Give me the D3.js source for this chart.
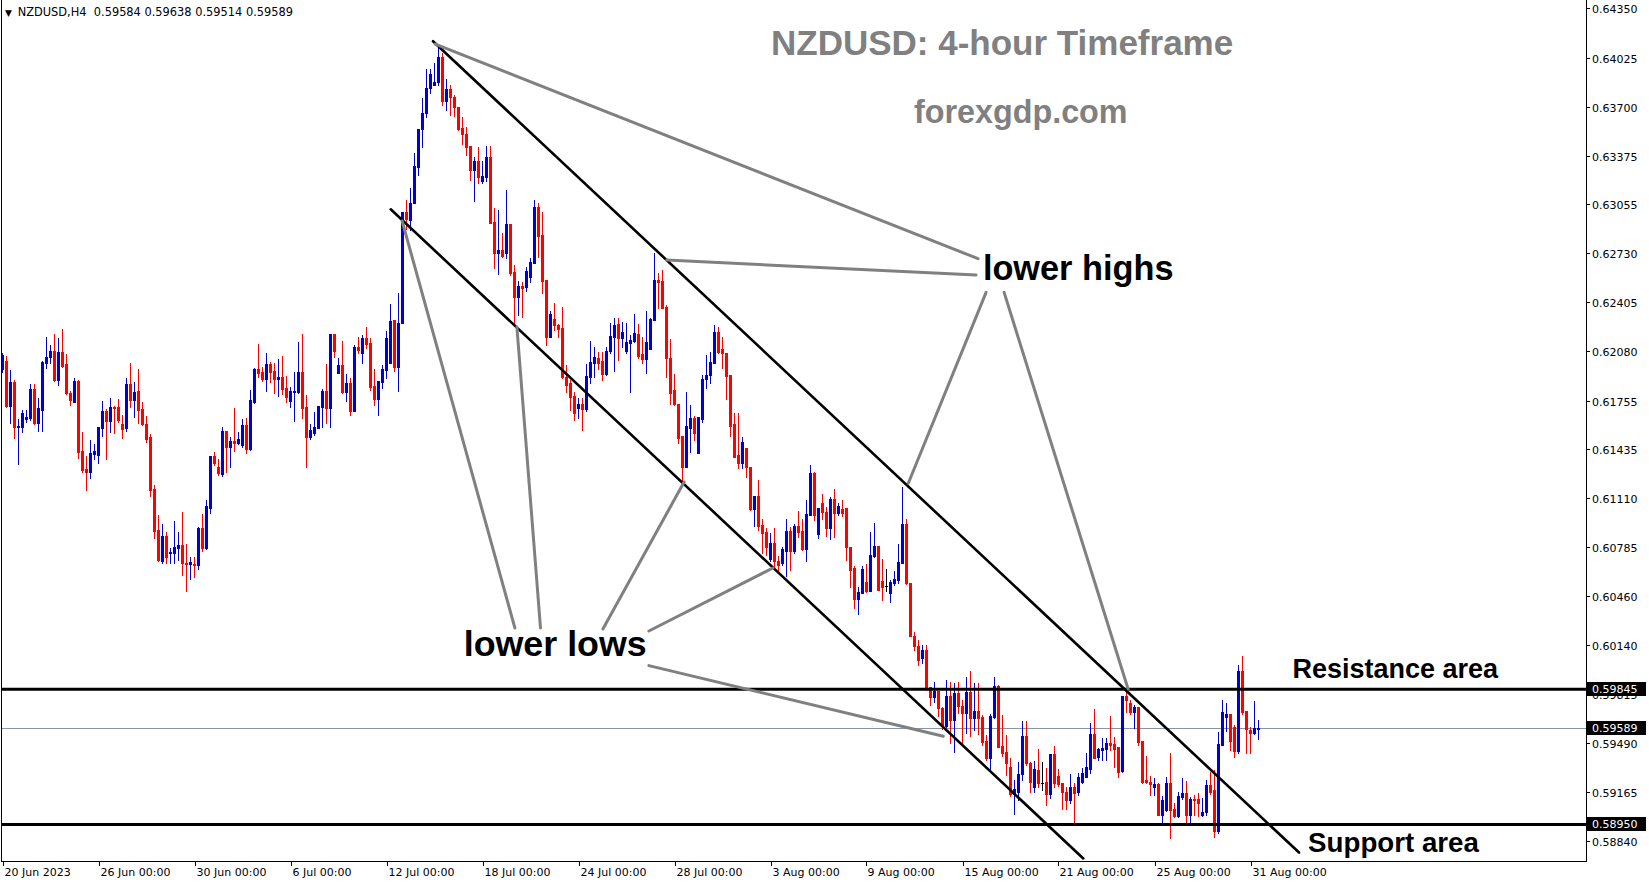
<!DOCTYPE html>
<html><head><meta charset="utf-8">
<script src="https://cdn.jsdelivr.net/npm/d3@7"></script>
<style>body{margin:0;background:#fff}svg{display:block}</style>
</head><body>
<script>
// ---------- DATA (NZDUSD H4, 20 Jun 2023 - 31 Aug 2023) ----------
const opens = [0.61964,0.62017,0.61719,0.61878,0.61581,0.61581,0.61633,0.61640,0.61831,0.61607,0.61693,0.62004,0.62044,0.62083,0.61891,0.62077,0.61998,0.61805,0.61746,0.61884,0.61421,0.61302,0.61283,0.61402,0.61395,0.61574,0.61686,0.61620,0.61713,0.61713,0.61601,0.61574,0.61865,0.61759,0.61818,0.61699,0.61601,0.61514,0.61169,0.60899,0.60693,0.60859,0.60746,0.60746,0.60779,0.60799,0.60680,0.60674,0.60674,0.60667,0.60912,0.60779,0.61044,0.61388,0.61316,0.61270,0.61553,0.61448,0.61487,0.61474,0.61461,0.61594,0.61434,0.61746,0.61964,0.61944,0.61897,0.61998,0.61950,0.61897,0.61911,0.61838,0.61752,0.61812,0.61812,0.61944,0.61713,0.61514,0.61540,0.61574,0.61713,0.61818,0.61706,0.62196,0.61937,0.61991,0.61812,0.61871,0.61686,0.62110,0.62070,0.62169,0.62136,0.61851,0.61765,0.61878,0.61957,0.62004,0.62288,0.61978,0.62268,0.63003,0.62950,0.63062,0.63301,0.63552,0.63658,0.63824,0.63844,0.63864,0.64029,0.63737,0.63817,0.63764,0.63698,0.63559,0.63520,0.63440,0.63281,0.63340,0.63208,0.63235,0.63367,0.62937,0.62732,0.62752,0.62732,0.62924,0.62606,0.62441,0.62513,0.62507,0.62573,0.62665,0.63036,0.62851,0.62553,0.62176,0.62294,0.62255,0.62235,0.61911,0.61871,0.61785,0.61706,0.61733,0.61699,0.61911,0.62004,0.62037,0.62017,0.61931,0.62083,0.62176,0.62262,0.62169,0.62083,0.62136,0.62149,0.62196,0.62064,0.62030,0.62097,0.62288,0.62553,0.62546,0.62375,0.62037,0.61825,0.61733,0.61520,0.61316,0.61574,0.61640,0.61408,0.61633,0.61897,0.61924,0.62004,0.62209,0.62097,0.62070,0.61924,0.61601,0.61395,0.61342,0.61441,0.61316,0.61037,0.61123,0.60932,0.60886,0.60706,0.60812,0.60693,0.60680,0.60759,0.60892,0.60759,0.60925,0.60892,0.60772,0.60998,0.61276,0.60873,0.61077,0.61018,0.60912,0.61103,0.61011,0.61037,0.61044,0.60786,0.60647,0.60442,0.60482,0.60555,0.60495,0.60726,0.60792,0.60561,0.60528,0.60482,0.60548,0.60568,0.60680,0.60939,0.60548,0.60197,0.60131,0.60051,0.60104,0.59860,0.59794,0.59833,0.59721,0.59601,0.59800,0.59641,0.59820,0.59734,0.59687,0.59827,0.59654,0.59700,0.59661,0.59502,0.59390,0.59661,0.59866,0.59469,0.59430,0.59330,0.59151,0.59165,0.59284,0.59535,0.59356,0.59198,0.59310,0.59224,0.59231,0.59151,0.59416,0.59270,0.59224,0.59165,0.59112,0.59198,0.59165,0.59231,0.59264,0.59317,0.59548,0.59396,0.59443,0.59449,0.59489,0.59482,0.59463,0.59304,0.59800,0.59754,0.59694,0.59727,0.59502,0.59244,0.59231,0.59198,0.59218,0.59013,0.59046,0.59224,0.59052,0.59006,0.59132,0.59158,0.59013,0.59118,0.59118,0.59013,0.59033,0.59211,0.59178,0.58907,0.59476,0.59661,0.59681,0.59595,0.59436,0.59965,0.59700,0.59575,0.59555,0.59584];
const highs = [0.62070,0.62050,0.61957,0.61891,0.61633,0.61693,0.61693,0.61865,0.61865,0.61772,0.62017,0.62176,0.62123,0.62196,0.62169,0.62228,0.62064,0.61818,0.61904,0.61891,0.61547,0.61388,0.61494,0.61468,0.61581,0.61752,0.61699,0.61772,0.61719,0.61765,0.61660,0.61904,0.62004,0.61878,0.61964,0.61746,0.61653,0.61534,0.61196,0.60998,0.60939,0.60886,0.60779,0.60958,0.60886,0.61018,0.60806,0.60720,0.60720,0.60919,0.61005,0.61097,0.61388,0.61415,0.61368,0.61581,0.61553,0.61514,0.61706,0.61547,0.61633,0.61640,0.61825,0.61971,0.62130,0.61978,0.62070,0.62011,0.62004,0.62030,0.62050,0.61917,0.61845,0.61944,0.62143,0.62196,0.61792,0.61601,0.61680,0.61719,0.61831,0.61998,0.62196,0.62196,0.62037,0.62149,0.61931,0.61904,0.62123,0.62176,0.62189,0.62242,0.62169,0.61964,0.61884,0.61991,0.62215,0.62395,0.62288,0.62467,0.63003,0.63082,0.63162,0.63393,0.63552,0.63757,0.63950,0.63950,0.63989,0.64095,0.64055,0.63884,0.63844,0.63777,0.63698,0.63632,0.63566,0.63440,0.63367,0.63434,0.63340,0.63440,0.63440,0.63029,0.63016,0.62864,0.63149,0.62924,0.62652,0.62546,0.62540,0.62639,0.62699,0.63082,0.63062,0.63003,0.62553,0.62347,0.62401,0.62262,0.62375,0.61991,0.61891,0.61812,0.61772,0.61772,0.61998,0.62149,0.62110,0.62077,0.62077,0.62110,0.62268,0.62301,0.62301,0.62275,0.62268,0.62189,0.62328,0.62262,0.62176,0.62347,0.62301,0.62732,0.62599,0.62619,0.62388,0.62163,0.61931,0.61733,0.61520,0.61812,0.61726,0.61653,0.61647,0.61924,0.62057,0.62077,0.62255,0.62242,0.62176,0.62070,0.61924,0.61673,0.61673,0.61514,0.61441,0.61316,0.61123,0.61229,0.60971,0.60912,0.60879,0.60912,0.60726,0.60786,0.60971,0.60919,0.60939,0.61024,0.60971,0.61097,0.61329,0.61283,0.61044,0.61137,0.61051,0.61117,0.61169,0.61077,0.61097,0.61044,0.60786,0.60660,0.60522,0.60660,0.60674,0.60886,0.60945,0.60792,0.60706,0.60641,0.60568,0.60627,0.60806,0.61183,0.60971,0.60548,0.60224,0.60171,0.60138,0.60138,0.59860,0.59893,0.59833,0.59727,0.59906,0.59893,0.59886,0.59893,0.59774,0.59926,0.59965,0.59886,0.59886,0.59674,0.59542,0.59681,0.59926,0.59873,0.59674,0.59542,0.59390,0.59244,0.59363,0.59634,0.59634,0.59363,0.59369,0.59449,0.59363,0.59323,0.59416,0.59469,0.59317,0.59224,0.59198,0.59284,0.59224,0.59290,0.59323,0.59423,0.59621,0.59714,0.59456,0.59522,0.59522,0.59667,0.59529,0.59463,0.59800,0.59827,0.59774,0.59741,0.59727,0.59502,0.59403,0.59270,0.59257,0.59224,0.59138,0.59264,0.59423,0.59092,0.59165,0.59257,0.59237,0.59132,0.59145,0.59158,0.59125,0.59244,0.59297,0.59310,0.59562,0.59774,0.59754,0.59681,0.59608,0.60005,0.60064,0.59700,0.59595,0.59767,0.59638];
const lows = [0.61944,0.61713,0.61607,0.61507,0.61336,0.61547,0.61614,0.61627,0.61601,0.61553,0.61553,0.61971,0.62004,0.61884,0.61858,0.61978,0.61799,0.61726,0.61746,0.61375,0.61283,0.61163,0.61243,0.61368,0.61342,0.61520,0.61368,0.61547,0.61540,0.61614,0.61507,0.61553,0.61713,0.61647,0.61607,0.61594,0.61481,0.61123,0.60846,0.60693,0.60680,0.60680,0.60680,0.60680,0.60700,0.60601,0.60495,0.60575,0.60588,0.60641,0.60759,0.60772,0.61011,0.61329,0.61263,0.61256,0.61283,0.61316,0.61421,0.61468,0.61448,0.61408,0.61428,0.61739,0.61911,0.61884,0.61818,0.61878,0.61805,0.61785,0.61799,0.61746,0.61713,0.61620,0.61805,0.61640,0.61316,0.61500,0.61527,0.61574,0.61581,0.61607,0.61581,0.62044,0.61937,0.61805,0.61752,0.61660,0.61686,0.62070,0.62004,0.62103,0.61825,0.61726,0.61660,0.61838,0.61904,0.62004,0.61950,0.61818,0.62268,0.62890,0.62884,0.63062,0.63248,0.63434,0.63632,0.63790,0.63844,0.63844,0.63711,0.63678,0.63645,0.63638,0.63546,0.63454,0.63380,0.63215,0.63075,0.63195,0.63195,0.63208,0.62930,0.62632,0.62593,0.62706,0.62699,0.62586,0.62255,0.62321,0.62308,0.62480,0.62540,0.62665,0.62706,0.62467,0.62123,0.62176,0.62222,0.62176,0.61904,0.61812,0.61693,0.61627,0.61640,0.61560,0.61686,0.61871,0.61911,0.61964,0.61891,0.61924,0.62070,0.61950,0.62024,0.62110,0.62070,0.61812,0.62143,0.62037,0.62004,0.61937,0.62097,0.62288,0.62368,0.62368,0.61911,0.61733,0.61726,0.61474,0.61209,0.61316,0.61415,0.61494,0.61408,0.61614,0.61838,0.61871,0.62004,0.62070,0.61971,0.61765,0.61520,0.61382,0.61309,0.61309,0.61250,0.61031,0.60925,0.60899,0.60746,0.60733,0.60693,0.60660,0.60627,0.60667,0.60594,0.60634,0.60746,0.60853,0.60766,0.60693,0.60998,0.60965,0.60846,0.60971,0.60859,0.60839,0.60853,0.60998,0.60991,0.60700,0.60522,0.60382,0.60343,0.60482,0.60489,0.60495,0.60720,0.60502,0.60435,0.60495,0.60422,0.60535,0.60548,0.60680,0.60541,0.60197,0.60104,0.60005,0.60018,0.59840,0.59741,0.59761,0.59667,0.59581,0.59595,0.59489,0.59430,0.59687,0.59476,0.59555,0.59535,0.59575,0.59548,0.59476,0.59376,0.59310,0.59654,0.59463,0.59403,0.59277,0.59138,0.59020,0.59112,0.59244,0.59343,0.59165,0.59165,0.59198,0.59178,0.59079,0.59125,0.59198,0.59204,0.59052,0.59052,0.59092,0.58954,0.59145,0.59224,0.59264,0.59290,0.59390,0.59376,0.59376,0.59376,0.59443,0.59330,0.59264,0.59297,0.59694,0.59681,0.59588,0.59476,0.59224,0.59224,0.59145,0.59145,0.59013,0.58954,0.59039,0.58860,0.58999,0.58999,0.59118,0.58954,0.58960,0.59013,0.59006,0.59006,0.59013,0.59151,0.58867,0.58893,0.59476,0.59568,0.59443,0.59396,0.59423,0.59681,0.59423,0.59423,0.59548,0.59514];
const closes = [0.62057,0.61719,0.61878,0.61581,0.61587,0.61673,0.61647,0.61831,0.61607,0.61706,0.62011,0.62044,0.62083,0.61891,0.62077,0.61984,0.61805,0.61759,0.61884,0.61415,0.61296,0.61283,0.61408,0.61421,0.61581,0.61686,0.61620,0.61713,0.61706,0.61627,0.61567,0.61865,0.61759,0.61812,0.61693,0.61601,0.61500,0.61163,0.60892,0.60700,0.60859,0.60720,0.60753,0.60786,0.60799,0.60680,0.60674,0.60687,0.60667,0.60912,0.60779,0.61057,0.61388,0.61342,0.61276,0.61553,0.61448,0.61487,0.61474,0.61500,0.61594,0.61434,0.61759,0.61964,0.61937,0.61897,0.61998,0.61944,0.61897,0.61911,0.61831,0.61779,0.61818,0.61818,0.61944,0.61706,0.61514,0.61560,0.61581,0.61719,0.61818,0.61706,0.62196,0.62083,0.61991,0.61812,0.61871,0.61686,0.62110,0.62090,0.62169,0.62130,0.61845,0.61765,0.61884,0.61964,0.62169,0.62281,0.61978,0.62268,0.63003,0.62956,0.63062,0.63307,0.63552,0.63658,0.63824,0.63917,0.63864,0.64029,0.63737,0.63817,0.63764,0.63698,0.63552,0.63520,0.63434,0.63281,0.63340,0.63235,0.63241,0.63367,0.62930,0.62732,0.62752,0.62712,0.62924,0.62599,0.62441,0.62513,0.62500,0.62612,0.62672,0.63036,0.62844,0.62546,0.62176,0.62328,0.62255,0.62228,0.61911,0.61858,0.61779,0.61673,0.61733,0.61699,0.61917,0.62011,0.62044,0.62004,0.61931,0.62083,0.62182,0.62255,0.62169,0.62209,0.62143,0.62156,0.62202,0.62050,0.62030,0.62143,0.62294,0.62553,0.62540,0.62368,0.62037,0.61805,0.61733,0.61507,0.61316,0.61587,0.61640,0.61540,0.61647,0.61897,0.61924,0.62011,0.62209,0.62077,0.62070,0.61917,0.61587,0.61382,0.61342,0.61481,0.61316,0.61037,0.61123,0.60925,0.60879,0.60786,0.60812,0.60693,0.60667,0.60772,0.60892,0.60759,0.60925,0.60886,0.60772,0.61005,0.61276,0.60998,0.61044,0.61018,0.60912,0.61103,0.61011,0.61057,0.61011,0.60786,0.60634,0.60442,0.60489,0.60641,0.60495,0.60733,0.60792,0.60502,0.60522,0.60528,0.60555,0.60575,0.60687,0.60939,0.60548,0.60197,0.60131,0.60038,0.60104,0.59853,0.59794,0.59833,0.59721,0.59601,0.59800,0.59641,0.59820,0.59734,0.59687,0.59827,0.59654,0.59700,0.59654,0.59496,0.59390,0.59667,0.59866,0.59463,0.59423,0.59356,0.59151,0.59184,0.59284,0.59535,0.59356,0.59231,0.59317,0.59224,0.59224,0.59151,0.59416,0.59224,0.59218,0.59165,0.59112,0.59198,0.59158,0.59264,0.59290,0.59330,0.59548,0.59390,0.59449,0.59456,0.59489,0.59476,0.59449,0.59297,0.59800,0.59774,0.59694,0.59727,0.59496,0.59231,0.59231,0.59218,0.59218,0.59013,0.59112,0.59224,0.59046,0.59006,0.59138,0.59158,0.59013,0.59118,0.59112,0.59092,0.59033,0.59211,0.59165,0.58907,0.59482,0.59694,0.59681,0.59502,0.59436,0.59965,0.59694,0.59581,0.59555,0.59588,0.59589];

const priceTickLabels = ["0.64350","0.64025","0.63700","0.63375","0.63055","0.62730","0.62405","0.62080","0.61755","0.61435","0.61110","0.60785","0.60460","0.60140","0.59815","0.59490","0.59165","0.58840"];
const dateLabels = ["20 Jun 2023","26 Jun 00:00","30 Jun 00:00","6 Jul 00:00","12 Jul 00:00","18 Jul 00:00","24 Jul 00:00","28 Jul 00:00","3 Aug 00:00","9 Aug 00:00","15 Aug 00:00","21 Aug 00:00","25 Aug 00:00","31 Aug 00:00"];
const dateLabelBars = [0,24,48,72,96,120,144,168,192,216,240,264,288,312];

const resistancePrice = 0.59845;
const supportPrice = 0.58950;
const lastPrice = 0.59589;

// trend lines: [barIndex, price]
const channelUpper = [[107.63,0.64133],[324.13,0.58764]];
const channelLower = [[97.05,0.63021],[270.2,0.58725]];
const lowerHighPointers = [
  [[108.2,0.64114],[243.9,0.62694]],
  [[166.05,0.62685],[243.4,0.62586]],
  [[226.45,0.61208],[245.9,0.62471]],
  [[250.4,0.62471],[281.4,0.59846]]
];
const lowerLowPointers = [
  [[99.9,0.62944],[128.1,0.60250]],
  [[128.6,0.62242],[134.5,0.60250]],
  [[170.4,0.61216],[150.1,0.60244]],
  [[192.6,0.60647],[161.6,0.60230]],
  [[161.6,0.60001],[235.2,0.59534]]
];
const labelTexts = [
  {text:"lower highs", bar:245.1, price:0.62553, size:34.3},
  {text:"lower lows", bar:115.3, price:0.60065, size:35.8},
  {text:"Resistance area", bar:322.5, price:0.59919, size:27},
  {text:"Support area", bar:326.4, price:0.58768, size:27.7}
];

// ---------- DRAW ----------
const W = 1649, H = 884;
const plotL = 2, plotR = 1586, plotB = 861;
const svg = d3.select("body").append("svg").attr("width", W).attr("height", H)
  .style("font-family","'DejaVu Sans', Tahoma, sans-serif");
svg.append("rect").attr("width",W).attr("height",H).attr("fill","#fff");

const x = d3.scaleLinear().domain([0, 396]).range([2.5, 1586.5]);
const y = d3.scaleLinear().domain([0.58708, 0.64406]).range([plotB, 0]);

svg.append("defs").append("clipPath").attr("id","plotclip")
  .append("rect").attr("x",plotL).attr("y",0).attr("width",plotR-plotL).attr("height",plotB);

const plot = svg.append("g").attr("clip-path","url(#plotclip)");

// last price line
plot.append("line").attr("x1",plotL).attr("x2",plotR)
  .attr("y1",Math.round(y(lastPrice))+0.5).attr("y2",Math.round(y(lastPrice))+0.5)
  .attr("stroke","#8595a6").attr("stroke-width",1);

// candles
const bars = d3.range(closes.length).map(i => ({i, o:opens[i], h:highs[i], l:lows[i], c:closes[i]}));
const col = d => d.c > d.o ? "#0000d2" : (d.c < d.o ? "#ff0000" : "#000000");
const cg = plot.append("g").attr("shape-rendering","crispEdges");
cg.selectAll("rect.wick").data(bars).join("rect").attr("class","wick")
  .attr("x", d => x(d.i) - 0.5).attr("width", 1)
  .attr("y", d => Math.round(y(d.h)))
  .attr("height", d => Math.max(1, Math.round(y(d.l)) - Math.round(y(d.h)) + 1))
  .attr("fill", col);
cg.selectAll("rect.body").data(bars).join("rect").attr("class","body")
  .attr("x", d => x(d.i) - 1.5).attr("width", 3)
  .attr("y", d => Math.round(y(Math.max(d.o,d.c))))
  .attr("height", d => Math.max(1, Math.round(y(Math.min(d.o,d.c))) - Math.round(y(Math.max(d.o,d.c))) + 1))
  .attr("fill", col);

// level lines
[resistancePrice, supportPrice].forEach(p => {
  plot.append("line").attr("x1",plotL).attr("x2",plotR)
    .attr("y1",y(p)).attr("y2",y(p)).attr("stroke","#000").attr("stroke-width",3);
});

// channel
const seg = (g, pts, color, w) => g.append("line")
  .attr("x1",x(pts[0][0])).attr("y1",y(pts[0][1]))
  .attr("x2",x(pts[1][0])).attr("y2",y(pts[1][1]))
  .attr("stroke",color).attr("stroke-width",w).attr("stroke-linecap","round");
seg(plot, channelUpper, "#000", 2.6);
seg(plot, channelLower, "#000", 2.6);
lowerHighPointers.forEach(p => seg(plot, p, "#808080", 3));
lowerLowPointers.forEach(p => seg(plot, p, "#808080", 3));

// annotation texts
labelTexts.forEach(t => {
  svg.append("text").attr("x", x(t.bar)).attr("y", y(t.price))
    .attr("font-family","'Liberation Sans', Arial, sans-serif").attr("font-weight","bold")
    .attr("font-size", t.size).attr("fill","#000").text(t.text);
});

// title
svg.append("text").attr("x",771).attr("y",55)
  .attr("font-family","'Liberation Sans', Arial, sans-serif").attr("font-weight","bold")
  .attr("font-size",35).attr("fill","#808080").text("NZDUSD: 4-hour Timeframe");
svg.append("text").attr("x",914).attr("y",123)
  .attr("font-family","'Liberation Sans', Arial, sans-serif").attr("font-weight","bold")
  .attr("font-size",32.3).attr("fill","#808080").text("forexgdp.com");

// header
const hdr = svg.append("text").attr("x",5).attr("y",16).attr("fill","#000")
  .style("white-space","pre");
hdr.append("tspan").attr("font-size",9).text("\u25BC  ");
hdr.append("tspan").attr("font-size",11.4).text("NZDUSD,H4  " + [opens[314],highs[314],lows[314],closes[314]].map(v=>v.toFixed(5)).join(" "));

// frame
const fr = svg.append("g").attr("shape-rendering","crispEdges").attr("stroke","#000");
fr.append("line").attr("x1",plotR+0.5).attr("x2",plotR+0.5).attr("y1",0).attr("y2",plotB+1);
fr.append("line").attr("x1",plotL-0.5).attr("x2",plotR+1).attr("y1",plotB+0.5).attr("y2",plotB+0.5);
fr.append("line").attr("x1",plotL-0.5).attr("x2",plotL-0.5).attr("y1",0).attr("y2",plotB+1);

// right axis labels
const ra = svg.append("g");
priceTickLabels.forEach(s => {
  const yy = Math.round(y(+s)) + 0.5;
  ra.append("line").attr("x1",plotR).attr("x2",plotR+4).attr("y1",yy).attr("y2",yy)
    .attr("stroke","#000").attr("shape-rendering","crispEdges");
  ra.append("text").attr("x",plotR+6).attr("y",yy+4).attr("font-size",11).attr("fill","#000").text(s);
});
// price boxes
[resistancePrice, lastPrice, supportPrice].forEach(p => {
  const yy = Math.round(y(p));
  ra.append("rect").attr("x",plotR+1).attr("y",yy-7).attr("width",59).attr("height",14).attr("fill","#000");
  ra.append("text").attr("x",plotR+6).attr("y",yy+4).attr("font-size",11).attr("fill","#fff").text(p.toFixed(5));
});

// bottom axis
const ba = svg.append("g");
dateLabels.forEach((s,k) => {
  const xx = Math.round(x(dateLabelBars[k])) + 0.5;
  ba.append("line").attr("x1",xx).attr("x2",xx).attr("y1",plotB).attr("y2",plotB+5)
    .attr("stroke","#000").attr("shape-rendering","crispEdges");
  ba.append("text").attr("x",xx+1).attr("y",876).attr("font-size",11).attr("fill","#000").text(s);
});
</script>
</body></html>
